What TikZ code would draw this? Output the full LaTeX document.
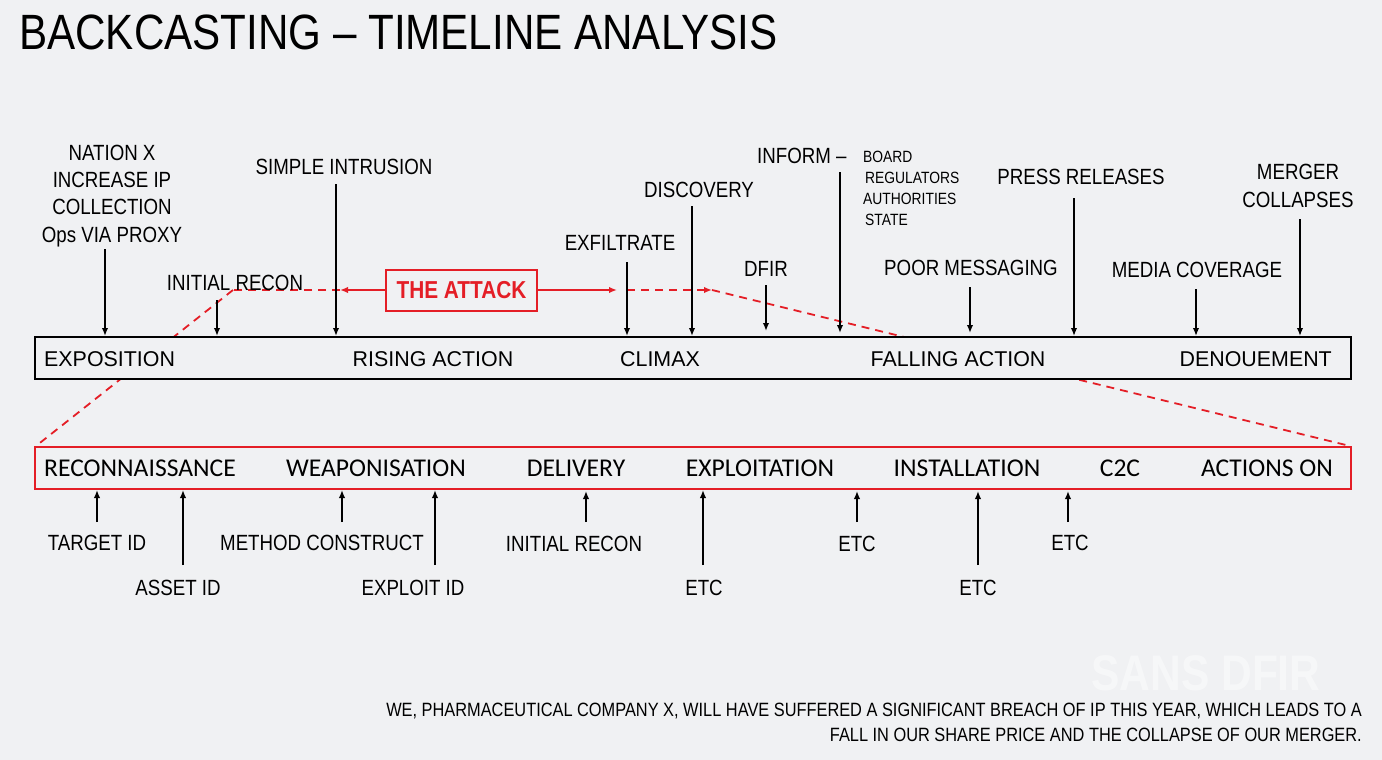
\documentclass[tikz,border=0pt]{standalone}
\usepackage{fontspec}
\setmainfont{Liberation Sans}
\newfontfamily\cond[FakeStretch=0.85]{Liberation Sans}
\newfontfamily\calib{Carlito}
\usetikzlibrary{arrows.meta}
\definecolor{bg}{RGB}{240,241,243}
\definecolor{attred}{RGB}{228,30,38}
\begin{document}
\begin{tikzpicture}[x=1pt,y=-1pt,
  lbl/.style={font=\cond\fontsize{22}{27.3}\selectfont, inner sep=0, anchor=base, align=center},
  sublbl/.style={font=\cond\fontsize{16.3}{20.7}\selectfont, inner sep=0, anchor=base west, align=left},
  boxlbl/.style={font=\fontsize{21.4}{25}\selectfont, inner sep=0, anchor=base},
  redlbl/.style={font=\calib\fontsize{25.6}{30}\selectfont, inner sep=0, anchor=base},
  arr/.style={line width=1.8pt, -{Latex[length=8pt,width=6.5pt]}},
  redarr/.style={draw=attred, line width=1.8pt, -{Latex[length=8pt,width=6.5pt]}},
  reddash/.style={draw=attred, line width=1.8pt, dash pattern=on 8pt off 6pt}
]
\fill[bg] (0,0) rectangle (1382,760);
\useasboundingbox (0,0) rectangle (1382,760);

% watermark
\node[font=\cond\bfseries\fontsize{50}{50}\selectfont, text=white, opacity=0.45, inner sep=0, anchor=base] (wm) at (1206,690) {SANS DFIR};

% title
\node[font=\cond\fontsize{49.6}{50}\selectfont, inner sep=0, anchor=base west] (title) at (19,50) {BACKCASTING \textendash{} TIMELINE ANALYSIS};

% red dashed zoom lines (behind the top box)
\coordinate (dl) at (233,290);
\coordinate (dr) at (712,290);
\coordinate (bl) at (36,446);
\coordinate (br) at (1350,446);
\draw[reddash] (dl) -- (bl);
\draw[reddash] (dr) -- (br);

% top timeline box
\node[draw, fill=bg, line width=2.4pt, minimum width=1316pt, minimum height=42pt, inner sep=0, anchor=north west] (top) at (34,336) {};
\node[boxlbl, anchor=base west] (expo) at (44,366) {EXPOSITION};
\node[boxlbl] (rise) at (433,366) {RISING ACTION};
\node[boxlbl] (climax) at (660,366) {CLIMAX};
\node[boxlbl] (fall) at (958,366) {FALLING ACTION};
\node[boxlbl, anchor=base east] (denou) at (1332,366) {DENOUEMENT};

% lower red box
\node[draw=attred, fill=bg, line width=2pt, minimum width=1316pt, minimum height=42pt, inner sep=0, anchor=north west] (kill) at (34,446) {};
\node[redlbl, anchor=base west] (recon) at (44,476) {RECONNAISSANCE};
\node[redlbl] (weap) at (376,476) {WEAPONISATION};
\node[redlbl] (deliv) at (576,476) {DELIVERY};
\node[redlbl] (exploit) at (760,476) {EXPLOITATION};
\node[redlbl] (install) at (967,476) {INSTALLATION};
\node[redlbl] (ctoc) at (1120,476) {C2C};
\node[redlbl] (acton) at (1267,476) {ACTIONS ON};

% the attack
\node[draw=attred, line width=2pt, minimum width=151pt, minimum height=41pt, inner sep=0, text=attred, font=\cond\bfseries\fontsize{24.5}{24.5}\selectfont] (attack) at (461.5,290.5) {THE ATTACK};
\coordinate (al) at (340,290);
\coordinate (ar) at (617,290);
\coordinate (dm) at (627,290);
\draw[redarr] (attack.west |- al) -- (al);
\draw[redarr] (attack.east |- ar) -- (ar);
\draw[reddash] (al) -- (dl);
\draw[reddash, -{Latex[length=8pt,width=6.5pt]}] (dm) -- (dr);

% top annotations
\node[lbl] (nation) at (112,242) {NATION X\\INCREASE IP\\COLLECTION\\Ops VIA PROXY};
\coordinate (s1) at (105,249);
\draw[arr] (s1) -- (s1 |- top.north);

\node[lbl] (irecon) at (235,290) {INITIAL RECON};
\coordinate (s2) at (217,300);
\draw[arr] (s2) -- (s2 |- top.north);

\node[lbl] (simple) at (344,174) {SIMPLE INTRUSION};
\coordinate (s3) at (336,184);
\draw[arr] (s3) -- (s3 |- top.north);

\node[lbl] (exfil) at (620,250) {EXFILTRATE};
\coordinate (s4) at (627,262);
\draw[arr] (s4) -- (s4 |- top.north);

\node[lbl] (disc) at (699,197) {DISCOVERY};
\coordinate (s5) at (692,206);
\draw[arr] (s5) -- (s5 |- top.north);

\node[lbl] (dfir) at (766,276) {DFIR};
\coordinate (s6) at (766,285);
\coordinate (e6) at (766,331);
\draw[arr] (s6) -- (e6);

\node[lbl, anchor=base west] (inform) at (757,163) {INFORM \textendash};
\node[sublbl] (who) at (863,225) {BOARD\\\hspace*{2pt}REGULATORS\\AUTHORITIES\\\hspace*{2pt}STATE};
\coordinate (s7) at (840,172);
\coordinate (e7) at (840,333);
\draw[arr] (s7) -- (e7);

\node[lbl] (poor) at (971,275) {POOR MESSAGING};
\coordinate (s8) at (970,287);
\coordinate (e8) at (970,333);
\draw[arr] (s8) -- (e8);

\node[lbl] (press) at (1081,184) {PRESS RELEASES};
\coordinate (s9) at (1074,198);
\draw[arr] (s9) -- (s9 |- top.north);

\node[lbl] (media) at (1197,277) {MEDIA COVERAGE};
\coordinate (s10) at (1196,289);
\draw[arr] (s10) -- (s10 |- top.north);

\node[lbl] (merger) at (1298,207) {MERGER\\COLLAPSES};
\coordinate (s11) at (1300,219);
\draw[arr] (s11) -- (s11 |- top.north);

% bottom annotations
\coordinate (b1) at (97,522);
\draw[arr] (b1) -- (b1 |- kill.south);
\node[lbl] (target) at (97,550) {TARGET ID};

\coordinate (b2) at (183,565);
\draw[arr] (b2) -- (b2 |- kill.south);
\node[lbl] (asset) at (178,595) {ASSET ID};

\coordinate (b3) at (342,522);
\draw[arr] (b3) -- (b3 |- kill.south);
\node[lbl] (method) at (322,550) {METHOD CONSTRUCT};

\coordinate (b4) at (435,565);
\draw[arr] (b4) -- (b4 |- kill.south);
\node[lbl] (expid) at (413,595) {EXPLOIT ID};

\coordinate (b5) at (586,522);
\coordinate (f5) at (586,491);
\draw[arr] (b5) -- (f5);
\node[lbl] (irecon2) at (574,551) {INITIAL RECON};

\coordinate (b6) at (703,565);
\draw[arr] (b6) -- (b6 |- kill.south);
\node[lbl] (etc1) at (704,595) {ETC};

\coordinate (b7) at (857,522);
\coordinate (f7) at (857,491);
\draw[arr] (b7) -- (f7);
\node[lbl] (etc2) at (857,551) {ETC};

\coordinate (b8) at (978,565);
\coordinate (f8) at (978,491);
\draw[arr] (b8) -- (f8);
\node[lbl] (etc3) at (978,595) {ETC};

\coordinate (b9) at (1068,522);
\coordinate (f9) at (1068,491);
\draw[arr] (b9) -- (f9);
\node[lbl] (etc4) at (1070,550) {ETC};

% statement
\node[font=\cond\fontsize{19.25}{24.5}\selectfont, inner sep=0, anchor=base east, align=right] (stmt) at (1362,741) {WE, PHARMACEUTICAL COMPANY X, WILL HAVE SUFFERED A SIGNIFICANT BREACH OF IP THIS YEAR, WHICH LEADS TO A\\FALL IN OUR SHARE PRICE AND THE COLLAPSE OF OUR MERGER.};
\end{tikzpicture}
\end{document}
